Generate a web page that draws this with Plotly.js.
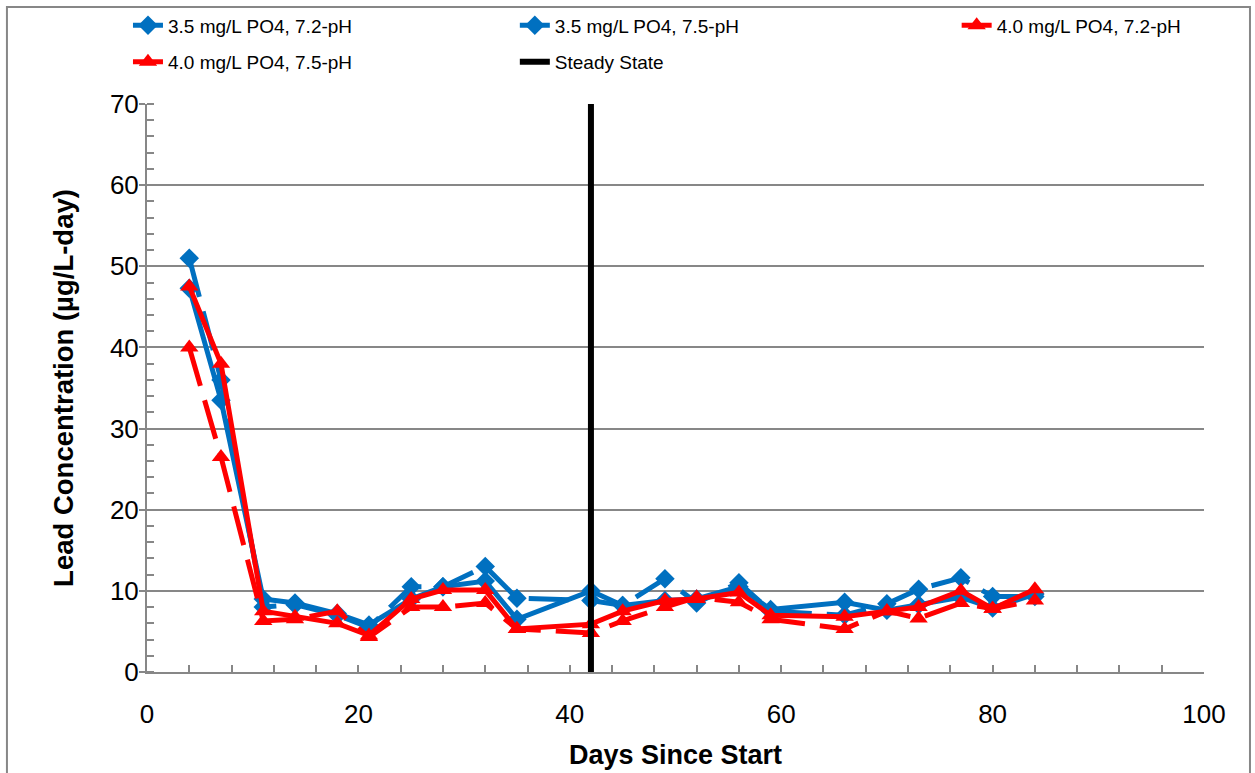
<!DOCTYPE html>
<html>
<head>
<meta charset="utf-8">
<script src="https://cdn.plot.ly/plotly-3.0.1.min.js"></script>
<style>html,body{margin:0;padding:0;background:#fff;}#chart{width:1255px;height:773px;}</style>
</head>
<body>
<div id="chart"></div>
<script>
// Sampling days
const days = [4, 7, 11, 14, 18, 21, 25, 28, 32, 35, 42, 45, 49, 52, 56, 59, 66, 70, 73, 77, 80, 84];
// Lead concentration (µg/L-day)
const po35_ph72 = [47.3, 33.5, 9.0, 8.5, 7.2, 5.8, 9.0, 10.5, 11.2, 6.5, 10.0, 8.2, 8.8, 9.0, 10.5, 7.7, 8.6, 7.6, 8.3, 9.2, 7.9, 9.6];
const po35_ph75 = [51.0, 36.0, 8.0, 8.3, 7.0, 5.5, 10.5, 10.5, 13.0, 9.1, 8.8, 8.2, 11.5, 8.5, 11.0, 7.5, 7.0, 8.4, 10.2, 11.6, 9.3, 9.3];
const po40_ph72 = [47.5, 38.0, 7.5, 6.8, 6.0, 4.5, 9.0, 10.1, 10.1, 5.3, 5.9, 7.5, 8.8, 9.0, 9.8, 7.0, 6.8, 7.5, 8.0, 10.0, 7.8, 10.2];
const po40_ph75 = [40.0, 26.5, 6.3, 6.5, 7.5, 4.3, 8.0, 8.0, 8.5, 5.3, 4.8, 6.3, 8.0, 9.2, 8.6, 6.5, 5.3, 7.5, 6.6, 8.5, 7.8, 8.8];
const steadyDay = [42, 42];
const steadyRange = [0, 70];
const seriesNames = ['3.5 mg/L PO4, 7.2-pH', '3.5 mg/L PO4, 7.5-pH', '4.0 mg/L PO4, 7.2-pH', '4.0 mg/L PO4, 7.5-pH', 'Steady State'];

const BLUE = '#0070C0', RED = '#FF0000', GRAY = '#878787';
const FONT = 'Liberation Sans, Arial, sans-serif';
const DASH = '40px,15px';

const traces = [
  {x: days, y: po35_ph72, name: seriesNames[0], mode: 'lines+markers', legend: 'legend', legendgroup: 'a',
   line: {color: BLUE, width: 5}, marker: {symbol: 'diamond', size: 15, color: BLUE}},
  {x: days, y: po35_ph75, name: seriesNames[1], mode: 'lines+markers', legend: 'legend2', legendgroup: 'b',
   line: {color: BLUE, width: 5, dash: DASH}, marker: {symbol: 'diamond', size: 15, color: BLUE}},
  {x: days, y: po40_ph72, name: seriesNames[2], mode: 'lines+markers', legend: 'legend3', legendgroup: 'c',
   line: {color: RED, width: 5}, marker: {symbol: 'triangle-up', size: 16, color: RED}},
  {x: days, y: po40_ph75, name: seriesNames[3], mode: 'lines+markers', legend: 'legend', legendgroup: 'd',
   line: {color: RED, width: 5, dash: DASH}, marker: {symbol: 'triangle-up', size: 16, color: RED}},
  {x: steadyDay, y: steadyRange, name: seriesNames[4], mode: 'lines', legend: 'legend2', legendgroup: 'e',
   line: {color: '#000000', width: 6}}
];

const legendBase = {yanchor: 'top', y: 1.172, xanchor: 'left', bgcolor: 'rgba(0,0,0,0)',
  font: {family: FONT, size: 19, color: '#000'}, tracegroupgap: 9, traceorder: 'grouped'};

const layout = {
  width: 1255, height: 773,
  margin: {l: 147, r: 51, t: 104, b: 101, autoexpand: false},
  paper_bgcolor: '#ffffff', plot_bgcolor: '#ffffff',
  showlegend: true,
  legend: Object.assign({}, legendBase, {x: -0.018}),
  legend2: Object.assign({}, legendBase, {x: 0.348}),
  legend3: Object.assign({}, legendBase, {x: 0.766}),
  xaxis: {
    range: [0, 100], tick0: 0, dtick: 20,
    ticks: 'inside', ticklen: 7, tickwidth: 2, tickcolor: GRAY,
    minor: {dtick: 4, ticks: 'inside', ticklen: 7, tickwidth: 2, tickcolor: GRAY, showgrid: false},
    showline: true, linecolor: GRAY, linewidth: 2, showgrid: false, zeroline: false,
    tickfont: {family: FONT, size: 26, color: '#000'}, ticklabelstandoff: 18,
    title: {text: 'Days Since Start', font: {family: FONT, size: 27, color: '#000', weight: 'bold'}, standoff: 17}
  },
  yaxis: {
    range: [0, 70], tick0: 0, dtick: 10,
    ticks: 'outside', ticklen: 6, tickwidth: 2, tickcolor: GRAY,
    minor: {dtick: 2, ticks: 'inside', ticklen: 7, tickwidth: 2, tickcolor: GRAY, showgrid: false},
    showline: true, linecolor: GRAY, linewidth: 2, showgrid: true, gridcolor: GRAY, gridwidth: 2, zeroline: false,
    tickfont: {family: FONT, size: 26, color: '#000'}, ticklabelstandoff: -5,
    title: {text: 'Lead Concentration (µg/L-day)', font: {family: FONT, size: 27.5, color: '#000', weight: 'bold'}, standoff: 28}
  },
  shapes: [
    {type: 'rect', xref: 'paper', yref: 'paper', x0: -0.1325, x1: 1.0435, y0: -0.2, y1: 1.1708,
     line: {color: GRAY, width: 2}, fillcolor: 'rgba(0,0,0,0)', layer: 'below'}
  ]
};

Plotly.newPlot('chart', traces, layout, {displayModeBar: false, staticPlot: true});
</script>
</body>
</html>
